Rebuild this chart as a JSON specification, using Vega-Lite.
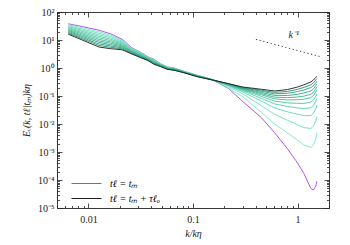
{
  "$schema": "https://vega.github.io/schema/vega-lite/v6.json",
  "width": 272,
  "height": 196,
  "autosize": {"type": "none"},
  "padding": {"left": 57, "top": 12, "right": 21, "bottom": 37},
  "config": {
    "view": {"stroke": null},
    "font": "Liberation Serif",
    "axis": {"grid": false, "domainColor": "#222", "tickColor": "#222", "labelColor": "#222", "titleColor": "#222", "labelFont": "Liberation Serif", "titleFont": "Liberation Serif", "labelFontSize": 10, "titleFontSize": 10, "titleFontWeight": "normal", "labelOverlap": false, "labelBound": false, "tickWidth": 0.8, "domainWidth": 0.9}
  },
  "datasets": {
    "spec": [
{"s":0,"k":0.0064,"E":38.0},{"s":0,"k":0.0087,"E":30.2},{"s":0,"k":0.0126,"E":22.4},{"s":0,"k":0.0163,"E":16.6},{"s":0,"k":0.021,"E":10.7},{"s":0,"k":0.026,"E":5.25},{"s":0,"k":0.032,"E":3.55},{"s":0,"k":0.037,"E":2.51},{"s":0,"k":0.042,"E":2.09},{"s":0,"k":0.049,"E":1.41},{"s":0,"k":0.057,"E":1.096},{"s":0,"k":0.066,"E":1.0},{"s":0,"k":0.082,"E":0.759},{"s":0,"k":0.11,"E":0.55},{"s":0,"k":0.15,"E":0.398},{"s":0,"k":0.22,"E":0.182},{"s":0,"k":0.3,"E":0.0631},{"s":0,"k":0.45,"E":0.017},{"s":0,"k":0.6,"E":0.00501},{"s":0,"k":0.8,"E":0.00132},{"s":0,"k":1.0,"E":0.000407},{"s":0,"k":1.15,"E":0.00017},{"s":0,"k":1.34,"E":0.0000501},{"s":0,"k":1.42,"E":0.0000437},{"s":0,"k":1.5,"E":0.0000631},{"s":0,"k":1.53,"E":0.0000891},
{"s":1,"k":0.0064,"E":35.2},{"s":1,"k":0.0087,"E":27.3},{"s":1,"k":0.0126,"E":19.7},{"s":1,"k":0.0163,"E":14.9},{"s":1,"k":0.021,"E":9.89},{"s":1,"k":0.026,"E":5.01},{"s":1,"k":0.032,"E":3.41},{"s":1,"k":0.037,"E":2.44},{"s":1,"k":0.042,"E":2.01},{"s":1,"k":0.049,"E":1.38},{"s":1,"k":0.057,"E":1.076},{"s":1,"k":0.066,"E":0.984},{"s":1,"k":0.082,"E":0.75},{"s":1,"k":0.11,"E":0.543},{"s":1,"k":0.15,"E":0.396},{"s":1,"k":0.22,"E":0.189},{"s":1,"k":0.3,"E":0.0931},{"s":1,"k":0.45,"E":0.0264},{"s":1,"k":0.6,"E":0.0102},{"s":1,"k":0.8,"E":0.00485},{"s":1,"k":1.0,"E":0.00266},{"s":1,"k":1.15,"E":0.00177},{"s":1,"k":1.34,"E":0.00145},{"s":1,"k":1.42,"E":0.00179},{"s":1,"k":1.5,"E":0.00312},{"s":1,"k":1.53,"E":0.00488},
{"s":2,"k":0.0064,"E":32.6},{"s":2,"k":0.0087,"E":24.7},{"s":2,"k":0.0126,"E":17.4},{"s":2,"k":0.0163,"E":13.3},{"s":2,"k":0.021,"E":9.14},{"s":2,"k":0.026,"E":4.79},{"s":2,"k":0.032,"E":3.27},{"s":2,"k":0.037,"E":2.38},{"s":2,"k":0.042,"E":1.94},{"s":2,"k":0.049,"E":1.36},{"s":2,"k":0.057,"E":1.057},{"s":2,"k":0.066,"E":0.967},{"s":2,"k":0.082,"E":0.743},{"s":2,"k":0.11,"E":0.538},{"s":2,"k":0.15,"E":0.395},{"s":2,"k":0.22,"E":0.211},{"s":2,"k":0.3,"E":0.118},{"s":2,"k":0.45,"E":0.0456},{"s":2,"k":0.6,"E":0.0224},{"s":2,"k":0.8,"E":0.0136},{"s":2,"k":1.0,"E":0.00944},{"s":2,"k":1.15,"E":0.00746},{"s":2,"k":1.34,"E":0.00692},{"s":2,"k":1.42,"E":0.00845},{"s":2,"k":1.5,"E":0.0134},{"s":2,"k":1.53,"E":0.0187},
{"s":3,"k":0.0064,"E":30.1},{"s":3,"k":0.0087,"E":22.3},{"s":3,"k":0.0126,"E":15.3},{"s":3,"k":0.0163,"E":11.9},{"s":3,"k":0.021,"E":8.43},{"s":3,"k":0.026,"E":4.57},{"s":3,"k":0.032,"E":3.15},{"s":3,"k":0.037,"E":2.32},{"s":3,"k":0.042,"E":1.87},{"s":3,"k":0.049,"E":1.33},{"s":3,"k":0.057,"E":1.035},{"s":3,"k":0.066,"E":0.951},{"s":3,"k":0.082,"E":0.735},{"s":3,"k":0.11,"E":0.532},{"s":3,"k":0.15,"E":0.393},{"s":3,"k":0.22,"E":0.227},{"s":3,"k":0.3,"E":0.138},{"s":3,"k":0.45,"E":0.0661},{"s":3,"k":0.6,"E":0.038},{"s":3,"k":0.8,"E":0.0274},{"s":3,"k":1.0,"E":0.0223},{"s":3,"k":1.15,"E":0.0198},{"s":3,"k":1.34,"E":0.02},{"s":3,"k":1.42,"E":0.0241},{"s":3,"k":1.5,"E":0.0358},{"s":3,"k":1.53,"E":0.0466},
{"s":4,"k":0.0064,"E":27.9},{"s":4,"k":0.0087,"E":20.2},{"s":4,"k":0.0126,"E":13.5},{"s":4,"k":0.0163,"E":10.6},{"s":4,"k":0.021,"E":7.8},{"s":4,"k":0.026,"E":4.37},{"s":4,"k":0.032,"E":3.03},{"s":4,"k":0.037,"E":2.25},{"s":4,"k":0.042,"E":1.8},{"s":4,"k":0.049,"E":1.3},{"s":4,"k":0.057,"E":1.016},{"s":4,"k":0.066,"E":0.935},{"s":4,"k":0.082,"E":0.728},{"s":4,"k":0.11,"E":0.527},{"s":4,"k":0.15,"E":0.391},{"s":4,"k":0.22,"E":0.238},{"s":4,"k":0.3,"E":0.152},{"s":4,"k":0.45,"E":0.0828},{"s":4,"k":0.6,"E":0.0525},{"s":4,"k":0.8,"E":0.042},{"s":4,"k":1.0,"E":0.0376},{"s":4,"k":1.15,"E":0.0358},{"s":4,"k":1.34,"E":0.038},{"s":4,"k":1.42,"E":0.0456},{"s":4,"k":1.5,"E":0.0652},{"s":4,"k":1.53,"E":0.0811},
{"s":5,"k":0.0064,"E":25.8},{"s":5,"k":0.0087,"E":18.3},{"s":5,"k":0.0126,"E":11.9},{"s":5,"k":0.0163,"E":9.53},{"s":5,"k":0.021,"E":7.19},{"s":5,"k":0.026,"E":4.17},{"s":5,"k":0.032,"E":2.91},{"s":5,"k":0.037,"E":2.19},{"s":5,"k":0.042,"E":1.73},{"s":5,"k":0.049,"E":1.27},{"s":5,"k":0.057,"E":0.998},{"s":5,"k":0.066,"E":0.92},{"s":5,"k":0.082,"E":0.72},{"s":5,"k":0.11,"E":0.521},{"s":5,"k":0.15,"E":0.389},{"s":5,"k":0.22,"E":0.245},{"s":5,"k":0.3,"E":0.163},{"s":5,"k":0.45,"E":0.0973},{"s":5,"k":0.6,"E":0.0661},{"s":5,"k":0.8,"E":0.0569},{"s":5,"k":1.0,"E":0.0546},{"s":5,"k":1.15,"E":0.0547},{"s":5,"k":1.34,"E":0.0603},{"s":5,"k":1.42,"E":0.0719},{"s":5,"k":1.5,"E":0.1},{"s":5,"k":1.53,"E":0.12},
{"s":6,"k":0.0064,"E":23.9},{"s":6,"k":0.0087,"E":16.5},{"s":6,"k":0.0126,"E":10.5},{"s":6,"k":0.0163,"E":8.53},{"s":6,"k":0.021,"E":6.65},{"s":6,"k":0.026,"E":3.98},{"s":6,"k":0.032,"E":2.79},{"s":6,"k":0.037,"E":2.13},{"s":6,"k":0.042,"E":1.67},{"s":6,"k":0.049,"E":1.245},{"s":6,"k":0.057,"E":0.979},{"s":6,"k":0.066,"E":0.904},{"s":6,"k":0.082,"E":0.713},{"s":6,"k":0.11,"E":0.516},{"s":6,"k":0.15,"E":0.388},{"s":6,"k":0.22,"E":0.252},{"s":6,"k":0.3,"E":0.172},{"s":6,"k":0.45,"E":0.111},{"s":6,"k":0.6,"E":0.0794},{"s":6,"k":0.8,"E":0.0724},{"s":6,"k":1.0,"E":0.0735},{"s":6,"k":1.15,"E":0.0767},{"s":6,"k":1.34,"E":0.0871},{"s":6,"k":1.42,"E":0.104},{"s":6,"k":1.5,"E":0.141},{"s":6,"k":1.53,"E":0.165},
{"s":7,"k":0.0064,"E":22.1},{"s":7,"k":0.0087,"E":14.9},{"s":7,"k":0.0126,"E":9.29},{"s":7,"k":0.0163,"E":7.64},{"s":7,"k":0.021,"E":6.14},{"s":7,"k":0.026,"E":3.8},{"s":7,"k":0.032,"E":2.69},{"s":7,"k":0.037,"E":2.07},{"s":7,"k":0.042,"E":1.6},{"s":7,"k":0.049,"E":1.22},{"s":7,"k":0.057,"E":0.962},{"s":7,"k":0.066,"E":0.889},{"s":7,"k":0.082,"E":0.705},{"s":7,"k":0.11,"E":0.511},{"s":7,"k":0.15,"E":0.386},{"s":7,"k":0.22,"E":0.256},{"s":7,"k":0.3,"E":0.179},{"s":7,"k":0.45,"E":0.122},{"s":7,"k":0.6,"E":0.0912},{"s":7,"k":0.8,"E":0.0871},{"s":7,"k":1.0,"E":0.092},{"s":7,"k":1.15,"E":0.0989},{"s":7,"k":1.34,"E":0.115},{"s":7,"k":1.42,"E":0.136},{"s":7,"k":1.5,"E":0.182},{"s":7,"k":1.53,"E":0.21},
{"s":8,"k":0.0064,"E":20.5},{"s":8,"k":0.0087,"E":13.5},{"s":8,"k":0.0126,"E":8.2},{"s":8,"k":0.0163,"E":6.82},{"s":8,"k":0.021,"E":5.68},{"s":8,"k":0.026,"E":3.63},{"s":8,"k":0.032,"E":2.58},{"s":8,"k":0.037,"E":2.02},{"s":8,"k":0.042,"E":1.55},{"s":8,"k":0.049,"E":1.19},{"s":8,"k":0.057,"E":0.944},{"s":8,"k":0.066,"E":0.875},{"s":8,"k":0.082,"E":0.698},{"s":8,"k":0.11,"E":0.506},{"s":8,"k":0.15,"E":0.385},{"s":8,"k":0.22,"E":0.262},{"s":8,"k":0.3,"E":0.187},{"s":8,"k":0.45,"E":0.134},{"s":8,"k":0.6,"E":0.105},{"s":8,"k":0.8,"E":0.104},{"s":8,"k":1.0,"E":0.115},{"s":8,"k":1.15,"E":0.128},{"s":8,"k":1.34,"E":0.151},{"s":8,"k":1.42,"E":0.179},{"s":8,"k":1.5,"E":0.236},{"s":8,"k":1.53,"E":0.266},
{"s":9,"k":0.0064,"E":18.9},{"s":9,"k":0.0087,"E":12.2},{"s":9,"k":0.0126,"E":7.23},{"s":9,"k":0.0163,"E":6.11},{"s":9,"k":0.021,"E":5.24},{"s":9,"k":0.026,"E":3.47},{"s":9,"k":0.032,"E":2.48},{"s":9,"k":0.037,"E":1.97},{"s":9,"k":0.042,"E":1.49},{"s":9,"k":0.049,"E":1.17},{"s":9,"k":0.057,"E":0.925},{"s":9,"k":0.066,"E":0.861},{"s":9,"k":0.082,"E":0.69},{"s":9,"k":0.11,"E":0.5},{"s":9,"k":0.15,"E":0.383},{"s":9,"k":0.22,"E":0.267},{"s":9,"k":0.3,"E":0.195},{"s":9,"k":0.45,"E":0.148},{"s":9,"k":0.6,"E":0.12},{"s":9,"k":0.8,"E":0.125},{"s":9,"k":1.0,"E":0.144},{"s":9,"k":1.15,"E":0.164},{"s":9,"k":1.34,"E":0.2},{"s":9,"k":1.42,"E":0.236},{"s":9,"k":1.5,"E":0.305},{"s":9,"k":1.53,"E":0.337},
{"s":10,"k":0.0064,"E":17.5},{"s":10,"k":0.0087,"E":11.1},{"s":10,"k":0.0126,"E":6.38},{"s":10,"k":0.0163,"E":5.47},{"s":10,"k":0.021,"E":4.84},{"s":10,"k":0.026,"E":3.31},{"s":10,"k":0.032,"E":2.38},{"s":10,"k":0.037,"E":1.91},{"s":10,"k":0.042,"E":1.43},{"s":10,"k":0.049,"E":1.15},{"s":10,"k":0.057,"E":0.908},{"s":10,"k":0.066,"E":0.846},{"s":10,"k":0.082,"E":0.684},{"s":10,"k":0.11,"E":0.495},{"s":10,"k":0.15,"E":0.382},{"s":10,"k":0.22,"E":0.271},{"s":10,"k":0.3,"E":0.202},{"s":10,"k":0.45,"E":0.16},{"s":10,"k":0.6,"E":0.135},{"s":10,"k":0.8,"E":0.146},{"s":10,"k":1.0,"E":0.173},{"s":10,"k":1.15,"E":0.203},{"s":10,"k":1.34,"E":0.251},{"s":10,"k":1.42,"E":0.296},{"s":10,"k":1.5,"E":0.378},{"s":10,"k":1.53,"E":0.411},
{"s":11,"k":0.0064,"E":16.2},{"s":11,"k":0.0087,"E":10.0},{"s":11,"k":0.0126,"E":5.62},{"s":11,"k":0.0163,"E":4.9},{"s":11,"k":0.021,"E":4.47},{"s":11,"k":0.026,"E":3.16},{"s":11,"k":0.032,"E":2.29},{"s":11,"k":0.037,"E":1.86},{"s":11,"k":0.042,"E":1.38},{"s":11,"k":0.049,"E":1.12},{"s":11,"k":0.057,"E":0.891},{"s":11,"k":0.066,"E":0.832},{"s":11,"k":0.082,"E":0.676},{"s":11,"k":0.11,"E":0.49},{"s":11,"k":0.15,"E":0.38},{"s":11,"k":0.22,"E":0.275},{"s":11,"k":0.3,"E":0.209},{"s":11,"k":0.45,"E":0.174},{"s":11,"k":0.6,"E":0.151},{"s":11,"k":0.8,"E":0.17},{"s":11,"k":1.0,"E":0.209},{"s":11,"k":1.15,"E":0.251},{"s":11,"k":1.34,"E":0.316},{"s":11,"k":1.42,"E":0.372},{"s":11,"k":1.5,"E":0.468},{"s":11,"k":1.53,"E":0.501}
    ],
    "slope": [{"k": 0.4, "E": 10.5}, {"k": 1.65, "E": 2.55}],
    "lab": [{"k": 0.92, "E": 15.3, "t": "k⁻¹"}]
  },
  "resolve": {"axis": {"x": "independent", "y": "independent"}},
  "layer": [
    {
      "data": {"name": "spec"},
      "mark": {"type": "line", "strokeWidth": 0.9, "clip": true},
      "encoding": {
        "x": {"field": "k", "type": "quantitative",
          "scale": {"type": "log", "domain": [0.005, 2], "nice": false},
          "axis": {"orient": "bottom", "title": "k/kη", "titleFontStyle": "italic", "titlePadding": 2,
            "values": [0.005,0.006,0.007,0.008,0.009,0.01,0.02,0.03,0.04,0.05,0.06,0.07,0.08,0.09,0.1,0.2,0.3,0.4,0.5,0.6,0.7,0.8,0.9,1,2],
            "labelExpr": "abs(log(datum.value)/LN10-round(log(datum.value)/LN10))>0.01 ? '' : format(datum.value,'~g')",
            "tickSize": {"condition": {"test": "abs(log(datum.value)/LN10-round(log(datum.value)/LN10))<0.01", "value": -5}, "value": -2.5},
            "labelPadding": 11}},
        "y": {"field": "E", "type": "quantitative",
          "scale": {"type": "log", "domain": [0.00001, 100], "nice": false},
          "axis": {"orient": "left", "title": "Eᵥ(k, tℓ|tₘ)kη", "titleFontStyle": "italic", "titlePadding": 6,
            "values": [0.00001,0.00002,0.00003,0.00004,0.00005,0.00006,0.00007,0.00008,0.00009,0.0001,0.0002,0.0003,0.0004,0.0005,0.0006,0.0007,0.0008,0.0009,0.001,0.002,0.003,0.004,0.005,0.006,0.007,0.008,0.009,0.01,0.02,0.03,0.04,0.05,0.06,0.07,0.08,0.09,0.1,0.2,0.3,0.4,0.5,0.6,0.7,0.8,0.9,1,2,3,4,5,6,7,8,9,10,20,30,40,50,60,70,80,90,100],
            "labelExpr": "abs(log(datum.value)/LN10-round(log(datum.value)/LN10))>0.01 ? '' : round(log(datum.value)/LN10)==2 ? '10²' : round(log(datum.value)/LN10)==1 ? '10¹' : round(log(datum.value)/LN10)==0 ? '10⁰' : round(log(datum.value)/LN10)==-1 ? '10⁻¹' : round(log(datum.value)/LN10)==-2 ? '10⁻²' : round(log(datum.value)/LN10)==-3 ? '10⁻³' : round(log(datum.value)/LN10)==-4 ? '10⁻⁴' : '10⁻⁵'",
            "tickSize": {"condition": {"test": "abs(log(datum.value)/LN10-round(log(datum.value)/LN10))<0.01", "value": -5}, "value": -2.5},
            "labelPadding": 8}},
        "color": {"field": "s", "type": "nominal",
          "scale": {"domain": [0,1,2,3,4,5,6,7,8,9,10,11],
            "range": ["#a845e6","#74e6c2","#6adeba","#60d5b1","#57cca8","#4ec3a0","#45ba97","#3cb08e","#34a685","#2c9c7c","#249273","#1c1c1c"]},
          "legend": {"values": [0, 11], "title": null, "orient": "none", "legendX": 24, "legendY": 166,
            "labelExpr": "datum.value == 0 ? 'tℓ = tₘ' : 'tℓ = tₘ + τℓₒ'",
            "symbolType": "M-3,0H3", "symbolSize": 100, "symbolStrokeWidth": 1,
            "labelFont": "Liberation Serif", "labelFontStyle": "italic", "labelFontSize": 10, "labelOffset": 18, "rowPadding": 4, "padding": 0}}
      }
    },
    {
      "data": {"name": "slope"},
      "mark": {"type": "line", "color": "#222", "strokeWidth": 0.9, "strokeDash": [1.2, 2.6]},
      "encoding": {
        "x": {"field": "k", "type": "quantitative",
          "axis": {"orient": "top", "title": null, "labels": false, "domainColor": "#222",
            "values": [0.005,0.006,0.007,0.008,0.009,0.01,0.02,0.03,0.04,0.05,0.06,0.07,0.08,0.09,0.1,0.2,0.3,0.4,0.5,0.6,0.7,0.8,0.9,1,2],
            "tickSize": {"condition": {"test": "abs(log(datum.value)/LN10-round(log(datum.value)/LN10))<0.01", "value": -5}, "value": -2.5}}},
        "y": {"field": "E", "type": "quantitative",
          "axis": {"orient": "right", "title": null, "labels": false,
            "values": [0.00001,0.00002,0.00003,0.00004,0.00005,0.00006,0.00007,0.00008,0.00009,0.0001,0.0002,0.0003,0.0004,0.0005,0.0006,0.0007,0.0008,0.0009,0.001,0.002,0.003,0.004,0.005,0.006,0.007,0.008,0.009,0.01,0.02,0.03,0.04,0.05,0.06,0.07,0.08,0.09,0.1,0.2,0.3,0.4,0.5,0.6,0.7,0.8,0.9,1,2,3,4,5,6,7,8,9,10,20,30,40,50,60,70,80,90,100],
            "tickSize": {"condition": {"test": "abs(log(datum.value)/LN10-round(log(datum.value)/LN10))<0.01", "value": -5}, "value": -2.5}}}
      }
    },
    {
      "data": {"name": "lab"},
      "mark": {"type": "text", "fontStyle": "italic", "fontSize": 10, "color": "#222", "font": "Liberation Serif"},
      "encoding": {
        "x": {"field": "k", "type": "quantitative", "axis": null},
        "y": {"field": "E", "type": "quantitative", "axis": null},
        "text": {"field": "t"}
      }
    }
  ]
}
